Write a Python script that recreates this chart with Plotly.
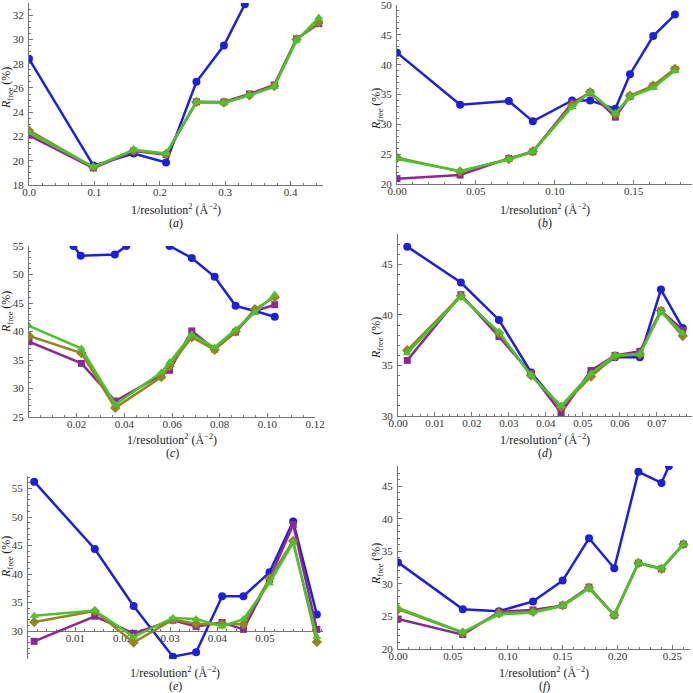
import plotly.graph_objects as go

# ---- data ----
# (a)
a_x = [0.0, 0.0985, 0.16, 0.2095, 0.256, 0.298, 0.337, 0.375, 0.409, 0.443]
a_blue_x = [0.0, 0.0985, 0.16, 0.2095, 0.256, 0.298, 0.330]
a_blue = [28.4, 19.6, 20.6, 19.85, 26.5, 29.5, 32.9]
a_purple = [22.1, 19.4, 20.8, 20.5, 24.85, 24.85, 25.5, 26.25, 30.05, 31.3]
a_olive = [22.5, 19.45, 20.85, 20.55, 24.85, 24.8, 25.4, 26.15, 30.0, 31.4]
a_green = [22.3, 19.5, 20.9, 20.6, 24.85, 24.75, 25.4, 26.1, 29.9, 31.8]

# (b)
b_x = [0.0, 0.040, 0.0709, 0.0861, 0.111, 0.1224, 0.1384, 0.1477, 0.1624, 0.1762]
b_blue = [42.0, 33.3, 33.9, 30.5, 34.0, 34.0, 32.6, 38.4, 44.8, 48.4]
b_purple = [20.9, 21.5, 24.3, 25.4, 33.6, 35.3, 31.2, 34.7, 36.4, 39.2]
b_olive = [24.4, 22.1, 24.2, 25.5, 33.2, 35.4, 31.7, 34.8, 36.5, 39.3]
b_green = [24.2, 22.2, 24.1, 25.4, 32.9, 35.4, 31.8, 34.6, 36.1, 39.0]

# (c)
c_x = [0.0, 0.022, 0.0362, 0.0555, 0.059, 0.0683, 0.0779, 0.0867, 0.0948, 0.1031]
c_blue_x = [0.0187, 0.0217, 0.036, 0.0408, None, 0.059, 0.0683, 0.0779, 0.0867, 0.0948, 0.1031]
c_blue = [55.0, 53.3, 53.5, 55.0, None, 55.0, 52.9, 49.6, 44.5, 43.6, 42.6]
c_purple = [38.2, 34.4, 27.8, 32.3, 33.2, 40.1, 36.9, 39.9, 43.6, 44.7]
c_olive = [39.2, 36.2, 26.6, 32.0, 33.9, 39.0, 36.8, 40.0, 43.9, 46.0]
c_green = [41.0, 37.0, 27.2, 32.8, 34.6, 39.5, 37.2, 40.3, 43.3, 46.5]

# (d)
d_x = [0.0025, 0.0170, 0.0273, 0.0360, 0.0441, 0.0522, 0.0587, 0.0654, 0.0711, 0.0770]
d_blue = [46.75, 43.2, 39.5, 34.3, 30.8, 34.2, 35.8, 35.8, 42.5, 38.7]
d_purple = [35.5, 42.0, 37.85, 34.2, 30.3, 34.5, 36.0, 36.4, 40.4, 38.5]
d_olive = [36.5, 41.9, 38.2, 34.0, 30.9, 33.9, 35.9, 36.1, 40.4, 37.9]
d_green = [36.2, 41.8, 38.3, 34.0, 31.0, 34.2, 36.0, 36.1, 40.3, 38.2]

# (e)
e_x = [0.0013, 0.0141, 0.0223, 0.0306, 0.0355, 0.041, 0.0455, 0.0510, 0.0560, 0.0610]
e_blue = [56.2, 44.4, 34.4, 25.5, 26.3, 36.1, 36.1, 40.3, 49.2, 32.9]
e_purple = [28.2, 32.6, 29.6, 31.9, 30.8, 31.5, 30.3, 39.1, 48.7, 30.3]
e_olive = [31.6, 33.5, 28.0, 32.0, 31.3, 31.2, 31.2, 39.2, 45.8, 28.1]
e_green = [32.7, 33.6, 29.0, 32.3, 32.1, 30.8, 32.1, 38.4, 45.5, 29.0]

# (f)
f_x = [0.0, 0.059, 0.092, 0.123, 0.150, 0.174, 0.197, 0.219, 0.240, 0.260]
f_blue_x = [0.0, 0.059, 0.092, 0.123, 0.150, 0.174, 0.197, 0.219, 0.240, 0.2468]
f_blue = [33.3, 26.1, 25.8, 27.3, 30.5, 37.0, 32.4, 47.2, 45.5, 48.1]
f_purple = [24.6, 22.2, 25.7, 26.0, 26.7, 29.5, 25.2, 33.2, 32.3, 36.1]
f_olive = [26.1, 22.5, 25.5, 25.7, 26.7, 29.4, 25.2, 33.2, 32.3, 36.1]
f_green = [26.3, 22.6, 25.3, 25.6, 26.6, 29.3, 25.2, 33.2, 32.4, 36.1]

BLUE = 'rgb(30,30,225)'
PURPLE = 'rgb(140,40,150)'
OLIVE = 'rgb(145,135,30)'
GREEN = 'rgb(75,195,45)'
AXC = '#777777'
FONT = 'Liberation Serif, DejaVu Serif, serif'
W = 693.0

fig = go.Figure()
layout = {}
notes = []


def addPanel(i, box, xs, blue_x, blue, purple, olive, green, xrange, yrange,
             xdtick, xminor, ydtick, yminor, xfmt, label, text_y,
             xvals=None, yvals=None, xline_at=None):
    left, right, top, bottom = box
    xa = 'x%d' % i
    ya = 'y%d' % i
    for xx, yy, col, sym, sz in [(blue_x, blue, BLUE, 'circle', 8),
                                 (xs, purple, PURPLE, 'square', 7),
                                 (xs, olive, OLIVE, 'diamond', 8),
                                 (xs, green, GREEN, 'triangle-up', 8)]:
        fig.add_trace(go.Scatter(x=xx, y=yy, xaxis=xa, yaxis=ya, mode='lines+markers',
                                 line=dict(color=col, width=2.5),
                                 marker=dict(color=col, symbol=sym, size=sz),
                                 showlegend=False, connectgaps=False))
    xaxis = dict(domain=[left / W, right / W], range=xrange, showline=True, automargin=False,
                 linecolor=AXC, linewidth=1, ticks='inside', ticklen=4, tickcolor=AXC,
                 showgrid=False, zeroline=False, tickformat=xfmt, layer='below traces',
                 ticklabelstandoff=-3, ticklabeloverflow='allow',
                 tickfont=dict(family=FONT, size=11, color='#333'),
                 minor=dict(tickmode='linear', tick0=0, dtick=xminor, ticks='inside',
                            ticklen=2, tickcolor=AXC, showgrid=False))
    if xvals is not None:
        xaxis.update(tickmode='array', tickvals=xvals)
    else:
        xaxis.update(tickmode='linear', tick0=0, dtick=xdtick)
    if xline_at is not None:
        xaxis.update(anchor='free', position=1 - xline_at / W)
    else:
        xaxis.update(anchor=ya)
    yaxis = dict(domain=[1 - bottom / W, 1 - top / W], range=yrange, anchor=xa,
                 showline=True, automargin=False, linecolor=AXC, linewidth=1,
                 ticks='inside', ticklen=4, ticklabeloverflow='allow', ticklabelstandoff=2,
                 tickcolor=AXC, showgrid=False, zeroline=False, layer='below traces',
                 tickfont=dict(family=FONT, size=11, color='#333'),
                 minor=dict(tickmode='linear', tick0=0, dtick=yminor, ticks='inside',
                            ticklen=2, tickcolor=AXC, showgrid=False))
    if yvals is not None:
        yaxis.update(tickmode='array', tickvals=yvals)
    else:
        yaxis.update(tickmode='linear', tick0=0, dtick=ydtick)
    key = '' if i == 1 else str(i)
    layout['xaxis' + key] = xaxis
    layout['yaxis' + key] = yaxis

    title_y, label_y, ytitle_y = text_y
    cx = (left + right) / 2
    notes.append(dict(x=cx / W, y=1 - title_y / W, xref='paper', yref='paper',
                      xanchor='center', yanchor='middle',
                      text='1/resolution<sup>2</sup> (Å<sup>−2</sup>)', showarrow=False,
                      font=dict(family=FONT, size=12, color='#222')))
    notes.append(dict(x=cx / W, y=1 - label_y / W, xref='paper', yref='paper',
                      xanchor='center', yanchor='middle',
                      text='(<i>%s</i>)' % label, showarrow=False,
                      font=dict(family=FONT, size=12, color='#222')))
    tx = 7 if left < 100 else 377
    notes.append(dict(x=tx / W, y=1 - ytitle_y / W, xref='paper', yref='paper',
                      xanchor='center', yanchor='middle',
                      text='<i>R</i><sub>free</sub> (%)', showarrow=False, textangle=-90,
                      font=dict(family=FONT, size=12, color='#222')))


addPanel(1, (29, 323, 3, 185), a_x, a_blue_x, a_blue, a_purple, a_olive, a_green,
         [0, 0.4495], [18, 33.0], 0.1, 0.02, 2, 0.5, '.1f', 'a', (209, 223, 88))
addPanel(2, (397, 692, 5, 184), b_x, b_x, b_blue, b_purple, b_olive, b_green,
         [0, 0.187], [20, 50.0], 0.05, 0.01, 5, 1, '.2f', 'b', (209, 223, 109))
addPanel(3, (29, 315, 246, 417), c_x, c_blue_x, c_blue, c_purple, c_olive, c_green,
         [0, 0.12], [25, 55], 0.02, 0.005, 5, 1, '.2f', 'c', (439, 453, 312),
         xvals=[0.02, 0.04, 0.06, 0.08, 0.10, 0.12])
addPanel(4, (398, 692, 234, 416), d_x, d_x, d_blue, d_purple, d_olive, d_green,
         [0, 0.0795], [30, 48], 0.01, 0.002, 5, 1, '.2f', 'd', (439, 453, 338))
addPanel(5, (28, 323, 476, 659), e_x, e_x, e_blue, e_purple, e_olive, e_green,
         [0, 0.0623], [25.1, 57.2], 0.01, 0.002, 5, 1, '.2f', 'e', (672, 686, 557),
         xvals=[0.01, 0.02, 0.03, 0.04, 0.05], yvals=[30, 35, 40, 45, 50, 55], xline_at=631)
addPanel(6, (398, 690, 466, 649), f_x, f_blue_x, f_blue, f_purple, f_olive, f_green,
         [0, 0.266], [20, 48.1], 0.05, 0.01, 5, 1, '.2f', 'f', (672, 686, 564))

fig.update_layout(**layout)
fig.update_layout(width=693, height=693, margin=dict(l=0, r=0, t=0, b=0, pad=0),
                  plot_bgcolor='white', paper_bgcolor='white', annotations=notes,
                  font=dict(family=FONT))

fig.write_html("out.html", config={'displayModeBar': False},
               post_script="document.body.style.margin='0px';")
